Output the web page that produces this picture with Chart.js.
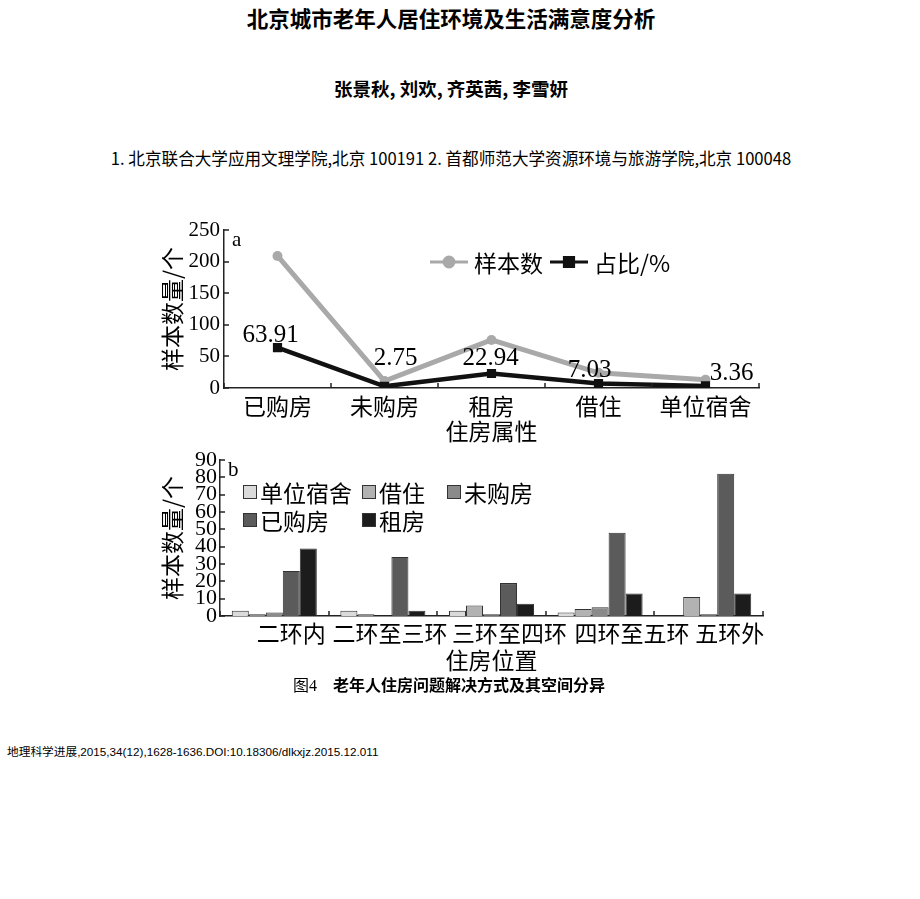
<!DOCTYPE html>
<html>
<head>
<meta charset="utf-8">
<script src="https://cdn.jsdelivr.net/npm/chart.js@4.4.0/dist/chart.umd.min.js"></script>
<style>
  body { margin: 0; background: #fff; }
  #page { position: relative; width: 920px; height: 899px; overflow: hidden; color: #000;
          font-family: "Noto Sans CJK SC", sans-serif; }
  .line { position: absolute; left: -9px; width: 920px; text-align: center; white-space: nowrap; line-height: 1; }
  #title { top: 7px; font-size: 21.5px; font-weight: bold; }
  #authors { top: 79px; font-size: 18.5px; font-weight: bold; }
  #affil { top: 150px; font-size: 16.6px; }
  #caption { top: 676px; font-size: 16px; left: -11px; }
  #caption .fig { font-family: "Liberation Serif", "Noto Sans CJK SC", serif; font-weight: normal; }
  #caption .cap { font-weight: bold; }
  #cite { position: absolute; left: 7px; top: 746px; font-size: 11.7px; line-height: 1;
          font-family: "Liberation Sans", "Noto Sans CJK SC", sans-serif; white-space: nowrap; }
  #boxA { position: absolute; left: 150px; top: 215px; }
  #boxB { position: absolute; left: 150px; top: 445px; }
</style>
</head>
<body>
<div id="page">
  <div class="line" id="title">北京城市老年人居住环境及生活满意度分析</div>
  <div class="line" id="authors">张景秋, 刘欢, 齐英茜, 李雪妍</div>
  <div class="line" id="affil">1. 北京联合大学应用文理学院,北京 100191 2. 首都师范大学资源环境与旅游学院,北京 100048</div>
  <canvas id="boxA" width="620" height="235"></canvas>
  <canvas id="boxB" width="620" height="230"></canvas>
  <div class="line" id="caption"><span class="fig">图4</span>　<span class="cap">老年人住房问题解决方式及其空间分异</span></div>
  <div id="cite">地理科学进展,2015,34(12),1628-1636.DOI:10.18306/dlkxjz.2015.12.011</div>
</div>

<script>
/* ============================
   DATA
============================ */

// chart a: housing type
const housingTypes = ["已购房", "未购房", "租房", "借住", "单位宿舍"];
const sampleCounts = [209, 11, 76, 24, 13];
const sharePercent = [63.91, 2.75, 22.94, 7.03, 3.36];
const countTicksA = [0, 50, 100, 150, 200, 250];

// chart b: housing location
const ringZones = ["二环内", "二环至三环", "三环至四环", "四环至五环", "五环外"];
const dormCounts = [3, 3, 3, 2, 0];
const borrowCounts = [1, 1, 6, 4, 11];
const notBoughtCounts = [2, 0, 1, 5, 1];
const boughtCounts = [26, 34, 19, 48, 82];
const rentCounts = [39, 3, 7, 13, 13];
const countTicksB = [0, 10, 20, 30, 40, 50, 60, 70, 80, 90];

/* ============================
   SHARED BITS
============================ */

const SERIF = '"Liberation Serif", "Noto Sans CJK SC", serif';
const CJK = '"Noto Sans CJK SC", "Liberation Serif", sans-serif';

// label nudges for the percent values (text only)
const labelShift = [[-7, -12], [11, -28], [-1, -15], [-9, -13], [26, -12]];
// the zone names in b sit a bit right of their category centre
const zoneLabelShift = [17, 7, 18, 32, 21];

// short ticks pointing into the plot, plus the panel letter
const innerTicks = {
  id: "innerTicks",
  afterDraw(chart, args, opts) {
    const ctx = chart.ctx;
    const x = chart.scales.x;
    const y = chart.scales.y;
    ctx.save();
    ctx.strokeStyle = "#222";
    ctx.lineWidth = 1.5;
    ctx.beginPath();
    for (let i = 0; i <= x.ticks.length; i++) {
      const px = Math.round(x.getPixelForValue(i - 0.5));
      ctx.moveTo(px, x.top);
      ctx.lineTo(px, x.top - 5);
    }
    y.ticks.forEach((t) => {
      const py = Math.round(y.getPixelForValue(t.value));
      ctx.moveTo(y.right, py);
      ctx.lineTo(y.right + 5, py);
    });
    ctx.stroke();

    ctx.fillStyle = "#000";
    ctx.font = "21px " + SERIF;
    ctx.textBaseline = "middle";
    ctx.fillText(opts.tag, chart.chartArea.left + 8, chart.chartArea.top + 10);
    ctx.restore();
  },
};

// legend of chart a: line + marker + text, inside the plot
const lineLegend = {
  id: "lineLegend",
  afterDraw(chart, args, opts) {
    const { ctx, chartArea } = chart;
    let x = chartArea.left + opts.x;
    const y = chartArea.top + opts.y;
    ctx.save();
    ctx.font = "23px " + CJK;
    ctx.textBaseline = "middle";
    opts.items.forEach((i) => {
      const ds = chart.data.datasets[i];
      ctx.strokeStyle = ds.borderColor;
      ctx.fillStyle = ds.borderColor;
      ctx.lineWidth = 3;
      ctx.beginPath();
      ctx.moveTo(x, y);
      ctx.lineTo(x + 38, y);
      ctx.stroke();
      Chart.helpers.drawPoint(ctx, { pointStyle: ds.pointStyle, radius: ds.pointRadius, borderWidth: 1 }, x + 19, y);
      ctx.fillStyle = "#000";
      ctx.fillText(ds.label, x + 44, y + 1);
      x += 44 + ctx.measureText(ds.label).width + 7;
    });
    ctx.restore();
  },
};

// percent labels next to the black points
const shareLabels = {
  id: "shareLabels",
  afterDatasetsDraw(chart) {
    const ctx = chart.ctx;
    const idx = chart.data.datasets.findIndex((d) => d.label === "占比/%");
    const meta = chart.getDatasetMeta(idx);
    ctx.save();
    ctx.font = "25px " + SERIF;
    ctx.fillStyle = "#000";
    ctx.textAlign = "center";
    ctx.textBaseline = "middle";
    meta.data.forEach((pt, i) => {
      ctx.fillText(sharePercent[i].toFixed(2), pt.x + labelShift[i][0], pt.y + labelShift[i][1]);
    });
    ctx.restore();
  },
};

// zone names under chart b, placed from the category scale
const zoneLabels = {
  id: "zoneLabels",
  afterDraw(chart) {
    const ctx = chart.ctx;
    const x = chart.scales.x;
    ctx.save();
    ctx.font = "23px " + CJK;
    ctx.fillStyle = "#000";
    ctx.textAlign = "center";
    ctx.textBaseline = "middle";
    chart.data.labels.forEach((lab, i) => {
      ctx.fillText(lab, x.getPixelForTick(i) + zoneLabelShift[i], x.top + 17);
    });
    ctx.restore();
  },
};

// legend of chart b: boxes laid out on a small grid
const boxLegend = {
  id: "boxLegend",
  afterDraw(chart, args, opts) {
    const { ctx, chartArea } = chart;
    ctx.save();
    ctx.font = "23px " + CJK;
    ctx.textBaseline = "middle";
    chart.data.datasets.forEach((ds, i) => {
      const [c, r] = opts.slots[i];
      const x = chartArea.left + opts.cols[c];
      const y = chartArea.top + opts.rows[r];
      ctx.fillStyle = ds.backgroundColor;
      ctx.fillRect(x, y - 7, 14, 14);
      ctx.strokeStyle = "#333";
      ctx.lineWidth = 1;
      ctx.strokeRect(x + 0.5, y - 6.5, 13, 13);
      ctx.fillStyle = "#000";
      ctx.fillText(ds.label, x + 17, y + 1);
    });
    ctx.restore();
  },
};

function axisX(title, showTicks, labelPad, titlePad, height) {
  return {
    type: "category",
    offset: true,
    grid: { display: false, offset: true, drawTicks: false },
    border: { display: true, color: "#222", width: 1.5 },
    ticks: { display: showTicks, color: "#000", font: { family: CJK, size: 23 }, padding: labelPad,
             autoSkip: false, maxRotation: 0 },
    title: { display: true, text: title, color: "#000", font: { family: CJK, size: 23 },
             padding: { top: 0, bottom: titlePad } },
    afterFit: (s) => { s.height = height; },
  };
}

function axisY(tickList, max, width, fontSize, pad) {
  return {
    min: 0,
    max: max,
    grid: { display: false, drawTicks: false },
    border: { display: true, color: "#222", width: 1.5 },
    afterBuildTicks: (s) => { s.ticks = tickList.map((v) => ({ value: v })); },
    ticks: { color: "#000", font: { family: SERIF, size: fontSize, lineHeight: 1 }, padding: pad, autoSkip: false },
    title: { display: true, text: "样本数量/个", color: "#000", font: { family: CJK, size: 23 },
             padding: { top: 8, bottom: 0 } },
    afterFit: (s) => { s.width = width; },
  };
}

/* ============================
   CHART A
============================ */

new Chart(document.getElementById("boxA"), {
  type: "line",
  data: {
    labels: housingTypes,
    datasets: [
      {
        label: "样本数",
        data: sampleCounts,
        borderColor: "#a9a9a9",
        backgroundColor: "#a9a9a9",
        borderWidth: 5,
        pointStyle: "circle",
        pointRadius: 5,
        pointBorderWidth: 0,
        tension: 0,
        order: 2,
      },
      {
        label: "占比/%",
        data: sharePercent,
        borderColor: "#111",
        backgroundColor: "#111",
        borderWidth: 4.5,
        pointStyle: "rect",
        pointRadius: 6.5,
        pointBorderWidth: 0,
        tension: 0,
        order: 1,
      },
    ],
  },
  options: {
    responsive: false,
    animation: false,
    devicePixelRatio: 1,
    layout: { padding: { top: 15, right: 11, left: 0, bottom: 0 } },
    plugins: {
      legend: { display: false },
      tooltip: { enabled: false },
      innerTicks: { tag: "a" },
      lineLegend: { x: 206, y: 32, items: [0, 1] },
    },
    scales: {
      x: axisX("住房属性", true, 4, 5, 62),
      y: axisY(countTicksA, 250, 74, 21, 4),
    },
  },
  plugins: [innerTicks, lineLegend, shareLabels],
});

/* ============================
   CHART B
============================ */

const barSeries = [
  { label: "单位宿舍", data: dormCounts, color: "#dadada" },
  { label: "借住", data: borrowCounts, color: "#b2b2b2" },
  { label: "未购房", data: notBoughtCounts, color: "#8a8a8a" },
  { label: "已购房", data: boughtCounts, color: "#5b5b5b" },
  { label: "租房", data: rentCounts, color: "#1c1c1c" },
];

new Chart(document.getElementById("boxB"), {
  type: "bar",
  data: {
    labels: ringZones,
    datasets: barSeries.map((s) => ({
      label: s.label,
      data: s.data,
      backgroundColor: s.color,
      borderColor: "#333",
      borderWidth: 1,
      barPercentage: 1,
      categoryPercentage: 0.783,
    })),
  },
  options: {
    responsive: false,
    animation: false,
    devicePixelRatio: 1,
    layout: { padding: { top: 15, right: 7, left: 0, bottom: 0 } },
    plugins: {
      legend: { display: false },
      tooltip: { enabled: false },
      innerTicks: { tag: "b" },
      boxLegend: { cols: [23, 142, 227], rows: [32, 60], slots: [[0, 0], [1, 0], [2, 0], [0, 1], [1, 1]] },
    },
    scales: {
      x: axisX("住房位置", false, 2, 1, 59),
      y: axisY(countTicksB, 90, 70, 22, 3),
    },
  },
  plugins: [innerTicks, boxLegend, zoneLabels],
});
</script>
</body>
</html>
